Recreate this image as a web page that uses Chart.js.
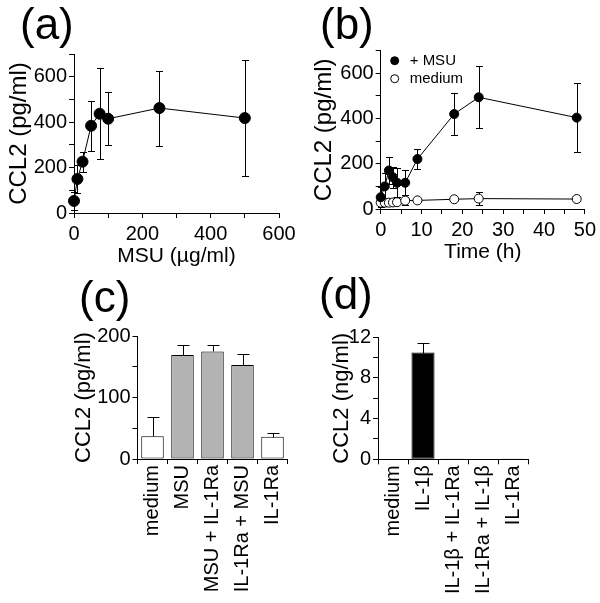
<!DOCTYPE html>
<html>
<head>
<meta charset="utf-8">
<script src="https://cdn.jsdelivr.net/npm/chart.js@4.4.0/dist/chart.umd.min.js"></script>
<style>
  body { margin: 0; background: #fff; }
  #fig { position: relative; width: 600px; height: 603px; font-family: 'Liberation Sans', Arial, sans-serif; }
  canvas { position: absolute; }
  .tag { position: absolute; font-size: 44px; line-height: 1; color: #000; z-index: 2; }
</style>
</head>
<body>
<div id="fig">
  <canvas id="ca" width="300" height="300" style="left:0;top:0"></canvas>
  <canvas id="cb" width="300" height="300" style="left:300px;top:0"></canvas>
  <canvas id="cc" width="300" height="303" style="left:0;top:300px"></canvas>
  <canvas id="cd" width="300" height="303" style="left:300px;top:300px"></canvas>
  <div class="tag" style="left:20px;top:2px">(a)</div>
  <div class="tag" style="left:320px;top:2px">(b)</div>
  <div class="tag" style="left:79px;top:275px">(c)</div>
  <div class="tag" style="left:319px;top:272px">(d)</div>
</div>
<script>
// (a) MSU dose, pg/ml
const doseX = [0, 10, 25, 50, 75, 100, 250, 500];
const doseY = [53, 150, 226, 384, 437, 415, 462, 418];
const doseErr = [40, 63, 44, 110, 200, 117, 165, 254];

// (b) time course
const hours = [0, 1, 2, 3, 4, 6, 9, 18, 24, 48];
const msuY = [52, 100, 170, 140, 116, 116, 221, 420, 494, 404];
const msuErr = [45, 60, 58, 45, 65, 56, 46, 94, 138, 152];
const mediumY = [28, 28, 28, 29, 30, 37, 38, 43, 46, 44];
const mediumErr = [10, 5, 5, 5, 8, 18, 6, 8, 30, 10];

// (c) MSU +/- IL-1Ra
const msuGroups = ['medium', 'MSU', 'MSU + IL-1Ra', 'IL-1Ra + MSU', 'IL-1Ra'];
const msuBar = [37, 169, 175, 153, 36];
const msuBarErr = [31, 17, 11, 18, 6];

// (d) IL-1beta +/- IL-1Ra, ng/ml
const il1Groups = ['medium', 'IL-1β', 'IL-1β + IL-1Ra', 'IL-1Ra + IL-1β', 'IL-1Ra'];
const il1Bar = [0.05, 10.5, 0.01, 0.06, 0.01];
const il1BarErr = [0, 0.97, 0, 0, 0];

Chart.defaults.font.family = "'Liberation Sans', Arial, sans-serif";
Chart.defaults.color = '#000';
Chart.defaults.animation = false;
Chart.defaults.plugins.legend.display = false;
Chart.defaults.plugins.tooltip.enabled = false;

function drawErr(chart, opts) {
  const ctx = chart.ctx;
  ctx.save();
  ctx.strokeStyle = '#000';
  ctx.lineWidth = 1;
  chart.data.datasets.forEach((ds, i) => {
    if (!ds.errors) return;
    const meta = chart.getDatasetMeta(i);
    const ys = chart.scales[meta.yAxisID];
    meta.data.forEach((el, j) => {
      const raw = ds.data[j];
      const v = typeof raw === 'object' ? raw.y : raw;
      const e = ds.errors[j];
      if (!e) return;
      const x = Math.round(el.x) + 0.5;
      const top = Math.round(ys.getPixelForValue(v + e)) + 0.5;
      const bot = Math.round(ys.getPixelForValue(opts.upOnly ? v : v - e)) + 0.5;
      ctx.beginPath();
      ctx.moveTo(x, top); ctx.lineTo(x, bot);
      ctx.moveTo(x - opts.cap, top); ctx.lineTo(x + opts.cap, top);
      if (!opts.upOnly) { ctx.moveTo(x - opts.cap, bot); ctx.lineTo(x + opts.cap, bot); }
      ctx.stroke();
    });
  });
  ctx.restore();
}

const errorBars = {
  id: 'errorBars',
  beforeDatasetsDraw(chart, args, opts) { if (opts.under) drawErr(chart, opts); },
  afterDatasetsDraw(chart, args, opts) { if (!opts.under) drawErr(chart, opts); }
};

const dotLegend = {
  id: 'dotLegend',
  afterDraw(chart, args, opts) {
    const { ctx, chartArea } = chart;
    ctx.save();
    chart.data.datasets.forEach((ds, i) => {
      const cx = chartArea.left + opts.left;
      const cy = chartArea.top + opts.top + i * opts.gap;
      ctx.beginPath();
      ctx.arc(cx, cy, opts.r, 0, Math.PI * 2);
      ctx.fillStyle = ds.pointBackgroundColor;
      ctx.fill();
      ctx.strokeStyle = '#000';
      ctx.lineWidth = 1;
      ctx.stroke();
      ctx.fillStyle = '#000';
      ctx.font = opts.font;
      ctx.textBaseline = 'middle';
      ctx.fillText(ds.label, cx + opts.textGap, cy);
    });
    ctx.restore();
  }
};

// shared axis look: black axis line, outward ticks only
function axis(o) {
  return {
    type: o.type || 'linear',
    min: o.min,
    max: o.max,
    offset: !!o.offset,
    border: { display: true, color: '#000', width: 1 },
    grid: { drawOnChartArea: false, color: '#000', tickLength: 5, offset: !!o.offset },
    ticks: Object.assign({
      font: { size: 20 },
      padding: 2,
      autoSkip: false,
      maxRotation: 0,
      minRotation: 0
    }, o.ticks || {}),
    title: {
      display: !!o.title,
      text: o.title,
      font: { size: o.titleSize },
      padding: o.titlePad
    },
    afterFit(s) {
      if (o.w) s.width = o.w;
      if (o.h) s.height = o.h;
    }
  };
}

const every = n => v => (v % n === 0 ? v : '');

// (a)
new Chart(document.getElementById('ca'), {
  type: 'line',
  data: {
    datasets: [{
      data: doseX.map((x, i) => ({ x, y: doseY[i] })),
      errors: doseErr,
      borderColor: '#000', borderWidth: 1,
      pointRadius: 5.5, pointBackgroundColor: '#000', pointBorderColor: '#000',
      clip: false
    }]
  },
  options: {
    responsive: false,
    layout: { padding: { left: 0, top: 54, right: 21, bottom: 0 } },
    scales: {
      x: axis({ min: 0, max: 600, h: 87, title: 'MSU (µg/ml)', titleSize: 21,
        titlePad: { top: 0, bottom: 31 },
        ticks: { stepSize: 100, callback: every(200), padding: 4 } }),
      y: axis({ min: 0, max: 700, w: 74, title: 'CCL2 (pg/ml)', titleSize: 24,
        titlePad: { top: 5, bottom: 0 },
        ticks: { stepSize: 100, callback: v => (v % 200 === 0 && v < 700 ? v : '') } })
    },
    plugins: { errorBars: { under: true, cap: 3.5 } }
  },
  plugins: [errorBars]
});

// (b)
new Chart(document.getElementById('cb'), {
  type: 'line',
  data: {
    datasets: [{
      label: '+ MSU',
      data: hours.map((x, i) => ({ x, y: msuY[i] })),
      errors: msuErr,
      borderColor: '#000', borderWidth: 1,
      pointRadius: 4.5, pointBackgroundColor: '#000', pointBorderColor: '#000',
      clip: false
    }, {
      label: 'medium',
      data: hours.map((x, i) => ({ x, y: mediumY[i] })),
      errors: mediumErr,
      borderColor: '#000', borderWidth: 1,
      pointRadius: 4.5, pointBackgroundColor: '#fff', pointBorderColor: '#000',
      clip: false
    }]
  },
  options: {
    responsive: false,
    layout: { padding: { left: 0, top: 50.7, right: 13.3, bottom: 0 } },
    scales: {
      x: axis({ min: 0, max: 50, h: 91, title: 'Time (h)', titleSize: 21,
        titlePad: { top: 0, bottom: 35 },
        ticks: { stepSize: 5, callback: every(10), padding: 4 } }),
      y: axis({ min: 0, max: 700, w: 80.7, title: 'CCL2 (pg/ml)', titleSize: 24,
        titlePad: { top: 10, bottom: 0 },
        ticks: { stepSize: 100, callback: v => (v % 200 === 0 && v < 700 ? v : '') } })
    },
    plugins: {
      errorBars: { under: true, cap: 3.5 },
      dotLegend: { left: 14, top: 10, gap: 18, r: 4, textGap: 15, font: "15px 'Liberation Sans', Arial, sans-serif" }
    }
  },
  plugins: [errorBars, dotLegend]
});

// (c)
new Chart(document.getElementById('cc'), {
  type: 'bar',
  data: {
    labels: msuGroups,
    datasets: [{
      data: msuBar,
      errors: msuBarErr,
      backgroundColor: ['#fff', '#b3b3b3', '#b3b3b3', '#b3b3b3', '#fff'],
      borderColor: '#000', borderWidth: 1, borderSkipped: false,
      barPercentage: 0.75, categoryPercentage: 1
    }]
  },
  options: {
    responsive: false,
    layout: { padding: { left: 0, top: 36, right: 12.5, bottom: 0 } },
    scales: {
      x: axis({ type: 'category', offset: true, h: 144,
        ticks: { maxRotation: 90, minRotation: 90, padding: 1 } }),
      y: axis({ min: 0, max: 200, w: 137.5, title: 'CCL2 (pg/ml)', titleSize: 22,
        titlePad: { top: 71, bottom: 0 },
        ticks: { stepSize: 50, callback: every(100) } })
    },
    plugins: { errorBars: { upOnly: true, cap: 6 } }
  },
  plugins: [errorBars]
});

// (d)
new Chart(document.getElementById('cd'), {
  type: 'bar',
  data: {
    labels: il1Groups,
    datasets: [{
      data: il1Bar,
      errors: il1BarErr,
      backgroundColor: '#000',
      borderColor: '#000', borderWidth: 1, borderSkipped: false,
      barPercentage: 0.77, categoryPercentage: 1
    }]
  },
  options: {
    responsive: false,
    layout: { padding: { left: 0, top: 37.3, right: 72, bottom: 0 } },
    scales: {
      x: axis({ type: 'category', offset: true, h: 143.7,
        ticks: { maxRotation: 90, minRotation: 90, padding: 1 } }),
      y: axis({ min: 0, max: 12, w: 78, title: 'CCL2 (ng/ml)', titleSize: 22,
        titlePad: { top: 29, bottom: 0 },
        ticks: { stepSize: 2, callback: every(4) } })
    },
    plugins: { errorBars: { upOnly: true, cap: 6 } }
  },
  plugins: [errorBars]
});
</script>
</body>
</html>
